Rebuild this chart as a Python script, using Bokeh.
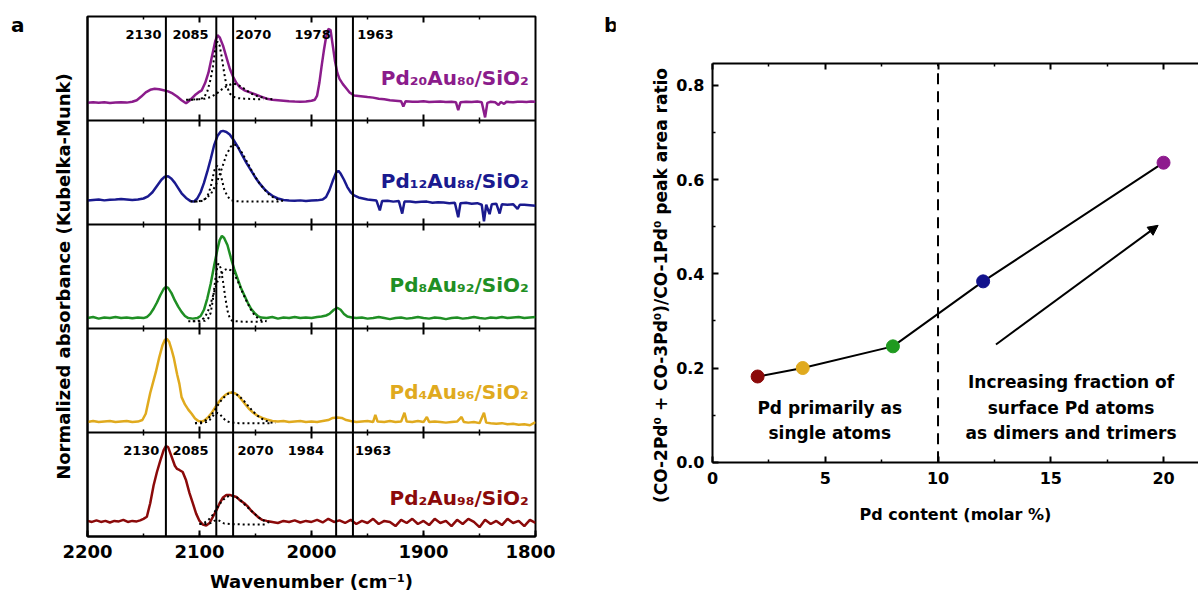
from bokeh.plotting import figure
from bokeh.models import (Range1d, Span, LinearAxis, SingleIntervalTicker, FixedTicker,
                          NumeralTickFormatter, Arrow, NormalHead, Div)
from bokeh.layouts import row
from bokeh.embed import file_html
from bokeh.resources import INLINE
from bokeh.core.properties import value

FONT = "DejaVu Sans"

# ---------------- Panel a data (normalized absorbance within each stacked panel) ----------------
SAMPLES = ["Pd₂₀Au₈₀/SiO₂", "Pd₁₂Au₈₈/SiO₂", "Pd₈Au₉₂/SiO₂", "Pd₄Au₉₆/SiO₂", "Pd₂Au₉₈/SiO₂"]
COLORS = ["#8B1C8B", "#1A1A8F", "#1F8F24", "#E0AA1E", "#8B0A0A"]
OFFSETS = [4, 3, 2, 1, 0]

PD20_WN = [2200, 2195, 2190, 2185, 2180, 2175, 2170, 2165, 2160, 2156, 2152, 2148, 2144, 2140, 2136, 2132,
           2128, 2124, 2120, 2116, 2112, 2108, 2104, 2101, 2098, 2095, 2092, 2089, 2086, 2084, 2082, 2079,
           2076, 2073, 2070, 2067, 2064, 2060, 2055, 2050, 2045, 2040, 2035, 2030, 2025, 2020, 2015, 2010,
           2005, 2000, 1997, 1995, 1993, 1991, 1989, 1987, 1985, 1983, 1981, 1979, 1977, 1975, 1972, 1969,
           1966, 1962, 1958, 1954, 1950, 1945, 1940, 1935, 1930, 1925, 1920, 1918, 1916, 1910, 1905, 1900,
           1895, 1890, 1885, 1880, 1875, 1871, 1869, 1867, 1862, 1857, 1852, 1848, 1845, 1843, 1840, 1836,
           1833, 1831, 1828, 1826, 1820, 1816, 1812, 1808, 1804, 1800]
PD20_VAL = [.17, .175, .17, .175, .168, .172, .175, .172, .18, .195, .23, .27, .295, .305, .30, .29,
            .28, .26, .23, .195, .165, .20, .245, .27, .29, .36, .46, .61, .76, .82, .80, .72,
            .61, .50, .42, .36, .32, .29, .27, .25, .23, .21, .20, .195, .19, .185, .182, .18,
            .183, .19, .20, .24, .36, .52, .67, .80, .88, .87, .72, .57, .46, .40, .35, .31,
            .27, .24, .235, .23, .225, .22, .21, .205, .195, .19, .185, .135, .185, .18, .18, .185,
            .178, .18, .182, .178, .18, .175, .10, .175, .18, .178, .182, .175, .03, .17, .18, .175,
            .15, .178, .16, .18, .175, .18, .18, .178, .182, .18]
PD20_FIT1_WN = [2112, 2105, 2100, 2096, 2093, 2090, 2088, 2086, 2084, 2082, 2080, 2078, 2076, 2073, 2070, 2066, 2060, 2050, 2043]
PD20_FIT1 = [.20, .20, .205, .22, .28, .40, .52, .68, .76, .72, .60, .46, .34, .26, .23, .215, .21, .205, .205]
PD20_FIT2_WN = [2110, 2100, 2095, 2090, 2085, 2080, 2075, 2070, 2066, 2062, 2058, 2054, 2050, 2045, 2040, 2035]
PD20_FIT2 = [.20, .205, .21, .225, .255, .30, .335, .355, .345, .32, .29, .26, .24, .225, .21, .205]

PD12_WN = [2200, 2195, 2190, 2185, 2180, 2175, 2170, 2165, 2160, 2155, 2150, 2146, 2142, 2138, 2134, 2131,
           2128, 2125, 2122, 2119, 2116, 2112, 2108, 2105, 2102, 2099, 2096, 2093, 2090, 2087, 2084, 2081,
           2079, 2076, 2073, 2070, 2066, 2062, 2058, 2054, 2050, 2046, 2042, 2038, 2034, 2030, 2025, 2020,
           2015, 2010, 2005, 2000, 1995, 1990, 1987, 1984, 1981, 1978, 1976, 1974, 1971, 1968, 1965, 1962,
           1958, 1954, 1950, 1946, 1942, 1939, 1937, 1932, 1927, 1922, 1919, 1917, 1912, 1907, 1902, 1897,
           1892, 1887, 1882, 1877, 1872, 1869, 1867, 1862, 1857, 1852, 1848, 1846, 1844, 1841, 1839, 1835,
           1832, 1830, 1825, 1820, 1816, 1814, 1810, 1805, 1800]
PD12_VAL = [.23, .235, .24, .232, .238, .24, .245, .24, .235, .24, .25, .27, .31, .37, .43, .46,
            .465, .44, .40, .35, .30, .255, .225, .22, .25, .31, .40, .51, .63, .76, .85, .895,
            .90, .89, .865, .82, .75, .67, .59, .52, .45, .39, .34, .30, .27, .25, .235, .23,
            .228, .232, .225, .23, .232, .24, .265, .33, .42, .50, .515, .49, .43, .36, .31, .28,
            .26, .25, .24, .235, .23, .135, .225, .228, .22, .225, .105, .22, .222, .215, .218, .22,
            .21, .215, .212, .205, .21, .07, .205, .21, .20, .205, .19, .03, .19, .10, .195, .20,
            .105, .195, .19, .195, .15, .19, .19, .185, .18]
PD12_FIT1_WN = [2108, 2100, 2096, 2093, 2090, 2088, 2086, 2084, 2082, 2080, 2078, 2075, 2072, 2068, 2060, 2050, 2040, 2030, 2027]
PD12_FIT1 = [.22, .222, .23, .27, .36, .46, .55, .565, .52, .43, .34, .27, .235, .225, .22, .22, .22, .22, .22]
PD12_FIT2_WN = [2105, 2100, 2095, 2090, 2085, 2080, 2076, 2072, 2069, 2066, 2062, 2058, 2054, 2050, 2046, 2042, 2038, 2034, 2030, 2025]
PD12_FIT2 = [.22, .225, .245, .29, .39, .54, .67, .75, .77, .75, .69, .61, .53, .455, .39, .335, .29, .26, .24, .225]

PD8_WN = [2200, 2195, 2190, 2185, 2180, 2175, 2170, 2165, 2160, 2155, 2150, 2147, 2144, 2141, 2138, 2135,
          2132, 2130, 2128, 2125, 2122, 2119, 2116, 2113, 2110, 2106, 2102, 2099, 2096, 2093, 2090, 2087,
          2084, 2082, 2080, 2078, 2075, 2072, 2069, 2066, 2063, 2060, 2057, 2054, 2051, 2048, 2045, 2040,
          2035, 2030, 2025, 2020, 2015, 2010, 2005, 2000, 1995, 1991, 1987, 1984, 1980, 1977, 1974, 1971,
          1968, 1964, 1960, 1955, 1950, 1945, 1940, 1935, 1930, 1925, 1920, 1915, 1910, 1905, 1900, 1895,
          1890, 1885, 1880, 1875, 1870, 1865, 1860, 1855, 1850, 1845, 1840, 1835, 1830, 1825, 1820, 1815,
          1810, 1805, 1800]
PD8_VAL = [.10, .11, .095, .105, .10, .11, .10, .105, .098, .105, .10, .11, .14, .19, .25, .32,
           .38, .40, .39, .34, .27, .21, .16, .12, .10, .095, .10, .12, .18, .29, .43, .60,
           .76, .85, .89, .87, .80, .68, .57, .48, .39, .32, .25, .19, .15, .12, .105, .10,
           .11, .095, .105, .10, .11, .10, .105, .10, .11, .115, .125, .14, .18, .20, .18, .14,
           .115, .105, .10, .105, .095, .10, .11, .10, .09, .10, .105, .095, .10, .11, .10, .095,
           .105, .10, .09, .10, .105, .095, .10, .11, .10, .095, .105, .10, .11, .10, .105, .11,
           .10, .105, .11]
PD8_FIT1_WN = [2110, 2100, 2095, 2092, 2090, 2088, 2086, 2084, 2083, 2081, 2079, 2077, 2075, 2073, 2071, 2068, 2060, 2050, 2042]
PD8_FIT1 = [.07, .07, .075, .10, .15, .28, .46, .60, .625, .58, .45, .30, .17, .10, .075, .07, .065, .065, .065]
PD8_FIT2_WN = [2106, 2100, 2096, 2093, 2090, 2087, 2084, 2081, 2078, 2075, 2072, 2069, 2066, 2063, 2060, 2057, 2054, 2051, 2048, 2045, 2040]
PD8_FIT2 = [.07, .075, .10, .15, .24, .35, .45, .52, .56, .575, .56, .52, .46, .38, .31, .24, .18, .13, .10, .08, .07]

PD4_WN = [2200, 2195, 2190, 2185, 2180, 2175, 2170, 2165, 2160, 2155, 2151, 2148, 2146, 2144, 2142, 2139,
          2136, 2133, 2131, 2129, 2127, 2125, 2123, 2120, 2118, 2116, 2113, 2110, 2107, 2104, 2101, 2098,
          2095, 2092, 2089, 2086, 2083, 2080, 2077, 2074, 2071, 2068, 2065, 2062, 2059, 2056, 2052, 2048,
          2044, 2040, 2035, 2030, 2025, 2020, 2015, 2010, 2005, 2000, 1995, 1990, 1985, 1981, 1977, 1973,
          1969, 1965, 1960, 1955, 1950, 1945, 1943, 1941, 1935, 1930, 1925, 1920, 1917, 1915, 1910, 1905,
          1900, 1897, 1895, 1890, 1885, 1880, 1875, 1870, 1866, 1864, 1860, 1855, 1850, 1846, 1844, 1840,
          1835, 1830, 1825, 1820, 1815, 1810, 1805, 1800]
PD4_VAL = [.10, .11, .10, .105, .11, .10, .105, .11, .10, .105, .12, .18, .28, .38, .46, .58,
           .72, .84, .89, .90, .87, .80, .72, .56, .47, .34, .27, .22, .18, .135, .11, .105,
           .12, .15, .19, .24, .29, .33, .36, .38, .385, .375, .35, .31, .27, .23, .19, .16,
           .14, .125, .11, .105, .11, .10, .105, .11, .10, .105, .10, .11, .12, .14, .145, .14,
           .12, .11, .10, .105, .11, .10, .17, .105, .10, .11, .10, .105, .19, .105, .10, .11,
           .10, .15, .10, .105, .10, .095, .10, .105, .15, .10, .095, .10, .09, .19, .095, .09,
           .085, .09, .08, .085, .075, .08, .07, .10]
PD4_FIT1_WN = [2104, 2098, 2094, 2091, 2088, 2085, 2082, 2079, 2076, 2072, 2065, 2055, 2045, 2036]
PD4_FIT1 = [.09, .09, .10, .12, .16, .19, .18, .14, .11, .095, .09, .09, .09, .09]
PD4_FIT2_WN = [2104, 2098, 2094, 2090, 2086, 2082, 2078, 2074, 2071, 2068, 2064, 2060, 2056, 2052, 2048, 2044, 2040, 2036, 2032]
PD4_FIT2 = [.09, .10, .12, .16, .22, .29, .34, .375, .385, .375, .345, .30, .25, .20, .16, .13, .11, .095, .09]

PD2_WN = [2200, 2196, 2192, 2188, 2184, 2180, 2176, 2172, 2168, 2164, 2160, 2156, 2153, 2150, 2147, 2144,
          2141, 2138, 2135, 2132, 2130, 2128, 2126, 2124, 2122, 2120, 2118, 2115, 2112, 2109, 2106, 2103,
          2100, 2097, 2094, 2091, 2088, 2085, 2082, 2079, 2076, 2073, 2070, 2067, 2064, 2060, 2057, 2054,
          2050, 2047, 2044, 2040, 2035, 2030, 2025, 2020, 2015, 2010, 2005, 2000, 1995, 1990, 1985, 1980,
          1975, 1970, 1965, 1960, 1955, 1950, 1945, 1940, 1935, 1930, 1925, 1920, 1915, 1910, 1905, 1900,
          1895, 1890, 1885, 1880, 1875, 1870, 1865, 1860, 1855, 1850, 1845, 1840, 1835, 1830, 1825, 1820,
          1815, 1810, 1805, 1800]
PD2_VAL = [.15, .14, .155, .14, .15, .135, .15, .145, .16, .14, .15, .145, .155, .17, .19, .32,
           .49, .62, .73, .83, .87, .86, .80, .74, .68, .65, .64, .62, .54, .42, .32, .22,
           .15, .115, .105, .13, .19, .25, .32, .375, .40, .40, .39, .38, .35, .32, .29, .25,
           .21, .18, .16, .15, .14, .13, .15, .14, .155, .135, .15, .14, .16, .135, .17, .14,
           .155, .13, .16, .12, .15, .13, .17, .12, .15, .14, .10, .16, .13, .17, .12, .15,
           .11, .17, .13, .15, .10, .16, .12, .17, .14, .09, .16, .12, .15, .11, .17, .13,
           .15, .10, .16, .13]
PD2_FIT1_WN = [2100, 2094, 2090, 2087, 2084, 2081, 2078, 2072, 2060, 2050, 2040]
PD2_FIT1 = [.12, .12, .13, .15, .16, .145, .125, .12, .115, .115, .115]
PD2_FIT2_WN = [2100, 2096, 2092, 2088, 2084, 2080, 2076, 2072, 2068, 2064, 2060, 2056, 2052, 2048, 2044, 2040, 2036]
PD2_FIT2 = [.12, .13, .16, .21, .28, .34, .38, .395, .385, .355, .31, .27, .23, .19, .16, .14, .13]

SPECTRA = [(PD20_WN, PD20_VAL), (PD12_WN, PD12_VAL), (PD8_WN, PD8_VAL), (PD4_WN, PD4_VAL), (PD2_WN, PD2_VAL)]
FITS = [[(PD20_FIT1_WN, PD20_FIT1), (PD20_FIT2_WN, PD20_FIT2)],
        [(PD12_FIT1_WN, PD12_FIT1), (PD12_FIT2_WN, PD12_FIT2)],
        [(PD8_FIT1_WN, PD8_FIT1), (PD8_FIT2_WN, PD8_FIT2)],
        [(PD4_FIT1_WN, PD4_FIT1), (PD4_FIT2_WN, PD4_FIT2)],
        [(PD2_FIT1_WN, PD2_FIT1), (PD2_FIT2_WN, PD2_FIT2)]]

REF_LINES = [2130, 2085, 2070, 1978, 1963]
TOP_PEAK_LABELS = ["2130", "2085", "2070", "1978", "1963"]
TOP_PEAK_LABEL_X = [2150, 2108, 2052, 1999, 1943]
BOT_PEAK_LABELS = ["2130", "2085", "2070", "1984", "1963"]
BOT_PEAK_LABEL_X = [2152, 2108, 2050, 2005, 1945]
SAMPLE_LABEL_Y = [0.413, 0.423, 0.423, 0.385, 0.375]

MAJOR_TICKS_A = [2100, 2000, 1900]
MINOR_TICKS_A = [2150, 2050, 1950, 1850]

# ---------------- Panel b data ----------------
PD_CONTENT = [2, 4, 8, 12, 20]
RATIO = [0.182, 0.200, 0.246, 0.384, 0.636]
POINT_COLORS = ["#8B0A0A", "#E0AA1E", "#1F9A1F", "#12128C", "#8E1A8E"]
X_TICKS_B = [0, 5, 10, 15, 20]
X_MINOR_B = [2.5, 7.5, 12.5, 17.5]
Y_TICKS_B = [0.0, 0.2, 0.4, 0.6, 0.8]
Y_MINOR_B = [0.1, 0.3, 0.5, 0.7]
XB_START, XB_END = -3.193, 21.55
YB_START, YB_END = -0.1578, 0.9465
YB_TOP = 0.847
YLABEL_SPAN_B = (-0.05, 0.80)
DIVIDER_X = 10
ARROW_START = (12.57, 0.25)
ARROW_END = (19.76, 0.503)
LEFT_TEXT = ["Pd primarily as", "single atoms"]
LEFT_TEXT_POS = [(5.2, 0.116), (5.2, 0.061)]
RIGHT_TEXT = ["Increasing fraction of", "surface Pd atoms", "as dimers and trimers"]
RIGHT_TEXT_POS = [(15.9, 0.170), (15.9, 0.116), (15.9, 0.061)]


def style_axis(ax, size):
    ax.axis_line_width = 2
    ax.axis_line_color = "black"
    ax.major_tick_in = 6
    ax.major_tick_out = 0
    ax.minor_tick_in = 3
    ax.minor_tick_out = 0
    ax.major_tick_line_width = 2
    ax.minor_tick_line_width = 1.5
    ax.major_tick_line_color = "black"
    ax.minor_tick_line_color = "black"
    ax.major_label_text_font = FONT
    ax.major_label_text_font_style = "bold"
    ax.major_label_text_font_size = size
    ax.major_label_text_color = "black"
    ax.axis_label_text_font = FONT
    ax.axis_label_text_font_style = "bold"
    ax.axis_label_text_font_size = size
    ax.axis_label_text_color = "black"


# ================= Panel a =================
pa = figure(output_backend="svg", toolbar_location=None,
            x_range=Range1d(2200, 1800), y_range=Range1d(0, 5),
            frame_width=448, frame_height=520,
            min_border_left=57, min_border_right=20, min_border_top=16, min_border_bottom=62)
pa.grid.visible = False
pa.outline_line_color = "black"
pa.outline_line_width = 2
pa.background_fill_color = "white"
pa.border_fill_color = "white"

xa = pa.xaxis[0]
xa.ticker = SingleIntervalTicker(interval=100, num_minor_ticks=2)
xa.axis_label = "Wavenumber (cm⁻¹)"
style_axis(xa, "18px")
xa.major_label_standoff = 8
xa.axis_label_standoff = 10

ya = pa.yaxis[0]
ya.ticker = FixedTicker(ticks=[], minor_ticks=[])
ya.axis_label = "Normalized absorbance (Kubelka-Munk)"
style_axis(ya, "18px")
ya.axis_label_standoff = 14

L_MAJ, L_MIN = 6 / 104, 3 / 104
for b in [1, 2, 3, 4]:
    pa.segment(x0=MAJOR_TICKS_A, x1=MAJOR_TICKS_A, y0=[b - L_MAJ] * len(MAJOR_TICKS_A),
               y1=[b + L_MAJ] * len(MAJOR_TICKS_A), line_color="black", line_width=2)
    pa.segment(x0=MINOR_TICKS_A, x1=MINOR_TICKS_A, y0=[b - L_MIN] * len(MINOR_TICKS_A),
               y1=[b + L_MIN] * len(MINOR_TICKS_A), line_color="black", line_width=1.5)
pa.segment(x0=MAJOR_TICKS_A, x1=MAJOR_TICKS_A, y0=[5 - L_MAJ] * len(MAJOR_TICKS_A),
           y1=[5] * len(MAJOR_TICKS_A), line_color="black", line_width=2)
pa.segment(x0=MINOR_TICKS_A, x1=MINOR_TICKS_A, y0=[5 - L_MIN] * len(MINOR_TICKS_A),
           y1=[5] * len(MINOR_TICKS_A), line_color="black", line_width=1.5)

for b in [1, 2, 3, 4]:
    pa.add_layout(Span(location=b, dimension="width", line_color="black", line_width=2))
for wn in REF_LINES:
    pa.add_layout(Span(location=wn, dimension="height", line_color="black", line_width=2))

for (wn, val), fits, off, col in zip(SPECTRA, FITS, OFFSETS, COLORS):
    pa.line(wn, [v + off for v in val], line_color=col, line_width=2.5)
    for fwn, fval in fits:
        pa.line(fwn, [v + off for v in fval], line_color="black", line_width=2, line_dash="2 3")

pa.text(x=TOP_PEAK_LABEL_X, y=[4.827] * 5, text=TOP_PEAK_LABELS, text_font=value(FONT),
        text_font_style="bold", text_font_size="13px", text_align="center", text_baseline="middle",
        text_color="black")
pa.text(x=BOT_PEAK_LABEL_X, y=[0.827] * 5, text=BOT_PEAK_LABELS, text_font=value(FONT),
        text_font_style="bold", text_font_size="13px", text_align="center", text_baseline="middle",
        text_color="black")
for name, col, off, yl in zip(SAMPLES, COLORS, OFFSETS, SAMPLE_LABEL_Y):
    pa.text(x=[1806], y=[off + yl], text=[name], text_font=value(FONT), text_font_style="bold",
            text_font_size="20px", text_align="right", text_baseline="middle", text_color=col)

# ================= Panel b =================
pb = figure(output_backend="svg", toolbar_location=None,
            x_range=Range1d(XB_START, XB_END), y_range=Range1d(YB_START, YB_END),
            frame_width=558, frame_height=520,
            min_border_left=25, min_border_right=0, min_border_top=16, min_border_bottom=62)
pb.grid.visible = False
pb.outline_line_color = None
pb.background_fill_color = "white"
pb.border_fill_color = "white"

xb = pb.xaxis[0]
xb.ticker = FixedTicker(ticks=X_TICKS_B, minor_ticks=X_MINOR_B)
xb.axis_label = "Pd content (molar %)"
xb.fixed_location = 0
xb.bounds = (0, XB_END)
yb = pb.yaxis[0]
yb.ticker = FixedTicker(ticks=Y_TICKS_B, minor_ticks=Y_MINOR_B)
yb.formatter = NumeralTickFormatter(format="0.0")
yb.fixed_location = 0
yb.bounds = (0, YB_TOP)
top = LinearAxis(ticker=FixedTicker(ticks=X_TICKS_B, minor_ticks=X_MINOR_B), fixed_location=YB_TOP,
                 bounds=(0, XB_END))
pb.add_layout(top, "above")
ylab = LinearAxis(ticker=FixedTicker(ticks=[], minor_ticks=[]), fixed_location=0,
                  bounds=YLABEL_SPAN_B,
                  axis_label="(CO-2Pd⁰ + CO-3Pd⁰)/CO-1Pd⁰ peak area ratio")
pb.add_layout(ylab, "left")
for ax in [xb, yb, top, ylab]:
    style_axis(ax, "16px")
ylab.axis_line_color = None
ylab.axis_label_text_font_size = "17px"
ylab.axis_label_standoff = 42
xb.major_label_standoff = 10
xb.axis_label_standoff = 17
yb.major_label_standoff = 8
top.major_label_text_color = None

pb.segment(x0=[DIVIDER_X], x1=[DIVIDER_X], y0=[0], y1=[YB_TOP], line_color="black", line_width=2,
           line_dash="11 7")
pb.line(PD_CONTENT, RATIO, line_color="black", line_width=2)
pb.scatter(PD_CONTENT, RATIO, size=13, fill_color=POINT_COLORS, line_color=POINT_COLORS)
pb.add_layout(Arrow(end=NormalHead(size=10, fill_color="black", line_color="black"),
                    x_start=ARROW_START[0], y_start=ARROW_START[1],
                    x_end=ARROW_END[0], y_end=ARROW_END[1], line_color="black", line_width=2))
pb.text(x=[p[0] for p in LEFT_TEXT_POS], y=[p[1] for p in LEFT_TEXT_POS], text=LEFT_TEXT,
        text_font=value(FONT), text_font_style="bold", text_font_size="17px",
        text_align="center", text_baseline="middle", text_color="black")
pb.text(x=[p[0] for p in RIGHT_TEXT_POS], y=[p[1] for p in RIGHT_TEXT_POS], text=RIGHT_TEXT,
        text_font=value(FONT), text_font_style="bold", text_font_size="17px",
        text_align="center", text_baseline="middle", text_color="black")

LETTER_STYLE = "font-family:'DejaVu Sans';font-weight:bold;font-size:20px;line-height:20px;color:black;"
div_a = Div(text=f'<div style="{LETTER_STYLE}margin:15px 0 0 11px;">a</div>', width=30, margin=0)
div_b = Div(text=f'<div style="{LETTER_STYLE}margin:15px 0 0 49px;">b</div>', width=60, margin=0)

layout = row(div_a, pa, div_b, pb)
open("out.html", "w").write(file_html(layout, INLINE))
